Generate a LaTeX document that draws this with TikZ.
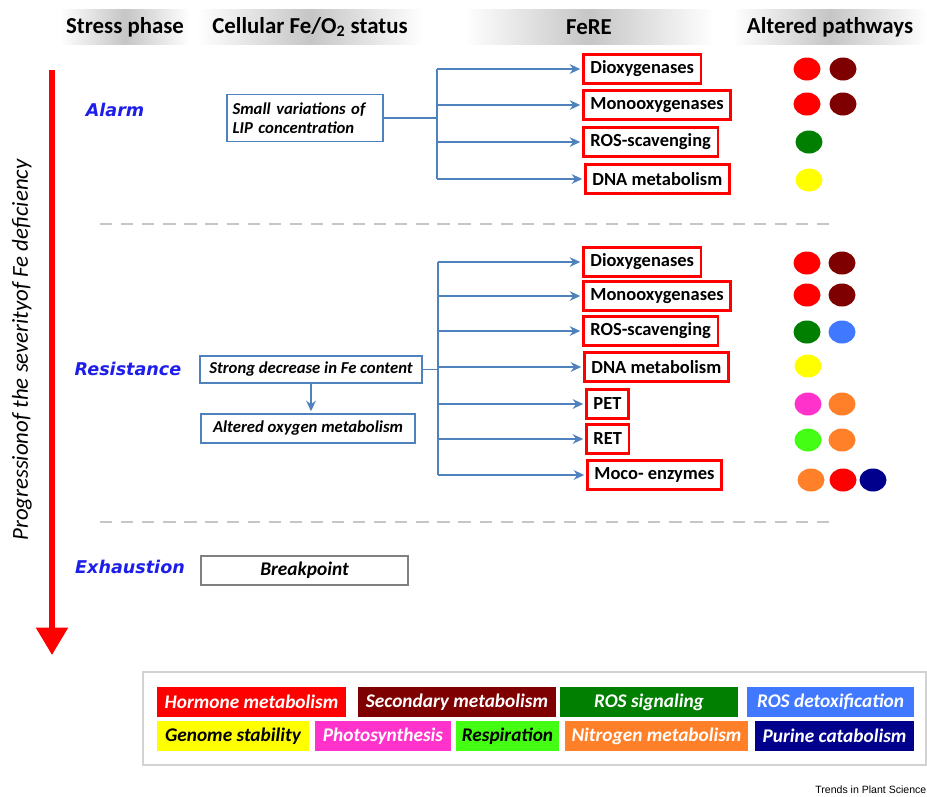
\documentclass[tikz,border=0pt]{standalone}
\usepackage{fontspec}
\setmainfont{Carlito}
\newfontfamily\stagefont{DejaVu Sans}
\newfontfamily\creditfont{Liberation Sans}
\usepackage{tikz}
\usetikzlibrary{shapes.geometric, arrows.meta, positioning, calc}
\definecolor{linkblue}{RGB}{79, 129, 189}
\definecolor{stageblue}{RGB}{30, 30, 235}
\definecolor{hormone}{RGB}{255, 0, 0}
\definecolor{secondary}{RGB}{127, 0, 0}
\definecolor{rossignal}{RGB}{0, 127, 0}
\definecolor{rosdetox}{RGB}{64, 120, 255}
\definecolor{genome}{RGB}{255, 255, 0}
\definecolor{photosyn}{RGB}{255, 51, 204}
\definecolor{respir}{RGB}{68, 255, 20}
\definecolor{nitrogen}{RGB}{255, 128, 40}
\definecolor{purine}{RGB}{0, 0, 140}

\begin{document}
\begin{tikzpicture}[x=0.02cm, y=-0.02cm,
  head/.style={font=\bfseries\fontsize{13}{15}\selectfont, minimum height=0.7cm, left color=white, right color=white, middle color=gray!45},
  stage/.style={font=\stagefont\bfseries\itshape\fontsize{10}{12}\selectfont, text=stageblue},
  status/.style={draw=linkblue, line width=1.1pt, font=\bfseries\itshape\fontsize{9.5}{11}\selectfont, inner sep=3pt},
  fere/.style={draw=red, line width=1.6pt, font=\bfseries\fontsize{10.5}{12.5}\selectfont, minimum height=0.58cm, inner xsep=4pt, anchor=west},
  link/.style={draw=linkblue, line width=1.1pt},
  arr/.style={link, -{Stealth[length=6pt, width=5.5pt]}, shorten >=1pt},
  dot/.style={ellipse, minimum width=0.54cm, minimum height=0.46cm, inner sep=0pt},
  leg/.style={minimum height=0.6cm, font=\bfseries\itshape\fontsize{11}{13}\selectfont, text=white, inner sep=0pt}]
  \useasboundingbox (0,0) rectangle (927,796);

  % Column headers
  \node[head, minimum width=2.6cm] (hstress) at (125,27) {Stress phase};
  \node[head, minimum width=4.54cm] (hstatus) at (310,27) {Cellular Fe/O\textsubscript{2} status};
  \node[head, minimum width=5cm] (hfere) at (589,27) {FeRE};
  \node[head, minimum width=3.9cm] (hpath) at (830,27) {Altered pathways};

  % Severity axis
  \coordinate (sevtop) at (52,70);
  \coordinate (sevtip) at (52,655);
  \draw[red, line width=3.2pt, -{Triangle[width=0.62cm, length=0.55cm]}] (sevtop) -- (sevtip);
  \node[rotate=90, font=\itshape\fontsize{13}{15}\selectfont] (sevlabel) at (22,350) {Progressionof the severityof Fe deficiency};

  % Stages
  \node[stage] (alarm) at (115,110) {Alarm};
  \node[stage] (resist) at (128,369) {Resistance};
  \node[stage] (exhaust) at (130,567) {Exhaustion};
  \draw[gray!45, line width=1.6pt, dash pattern=on 7pt off 5pt] (100,224) -- (830,224);
  \draw[gray!45, line width=1.6pt, dash pattern=on 7pt off 5pt] (100,522) -- (830,522);

  % Alarm phase
  \node[status, minimum width=3.08cm, minimum height=0.94cm, text width=2.9cm, align=left] (lip) at (305,118) {Small variations of\\LIP concentration};
  \node[fere] (a1) at (582,69) {Dioxygenases};
  \node[fere] (a2) at (582,105) {Monooxygenases};
  \node[fere] (a3) at (582,142) {ROS-scavenging};
  \node[fere] (a4) at (584,179) {DNA metabolism};
  \coordinate (ja) at (437,118);
  \draw[link] (lip.east) -- (ja);
  \draw[link] (ja |- a1.west) -- (ja |- a4.west);
  \foreach \n in {a1,a2,a3,a4}
    \draw[arr] (ja |- \n.west) -- (\n.west);

  \node[dot, fill=hormone] (da1) at (807,69) {};
  \node[dot, fill=secondary] (da2) at (843,69) {};
  \node[dot, fill=hormone] (da3) at (807,104) {};
  \node[dot, fill=secondary] (da4) at (843,104) {};
  \node[dot, fill=rossignal] (da5) at (809,142) {};
  \node[dot, fill=genome] (da6) at (809,180) {};

  % Resistance phase
  \node[status, minimum width=4.44cm, minimum height=0.54cm] (strong) at (311,369.5) {Strong decrease in Fe content};
  \node[status, minimum width=4.28cm, minimum height=0.58cm] (oxy) at (308,428.5) {Altered oxygen metabolism};
  \draw[arr] (strong.south) -- (strong.south |- oxy.north);
  \node[fere] (r1) at (582,262) {Dioxygenases};
  \node[fere] (r2) at (582,296) {Monooxygenases};
  \node[fere] (r3) at (582,331) {ROS-scavenging};
  \node[fere] (r4) at (583,367) {DNA metabolism};
  \node[fere] (r5) at (585,404) {PET};
  \node[fere] (r6) at (585,439) {RET};
  \node[fere] (r7) at (586,475) {Moco- enzymes};
  \coordinate (jr) at (438,369.5);
  \draw[link] (strong.east) -- (jr);
  \draw[link] (jr |- r1.west) -- (jr |- r7.west);
  \foreach \n in {r1,r2,r3,r4,r5,r6,r7}
    \draw[arr] (jr |- \n.west) -- (\n.west);

  \node[dot, fill=hormone] (dr1) at (807,263) {};
  \node[dot, fill=secondary] (dr2) at (842,263) {};
  \node[dot, fill=hormone] (dr3) at (807,295) {};
  \node[dot, fill=secondary] (dr4) at (842,295) {};
  \node[dot, fill=rossignal] (dr5) at (807,332) {};
  \node[dot, fill=rosdetox] (dr6) at (842,332) {};
  \node[dot, fill=genome] (dr7) at (808,366) {};
  \node[dot, fill=photosyn] (dr8) at (808,404) {};
  \node[dot, fill=nitrogen] (dr9) at (842,404) {};
  \node[dot, fill=respir] (dr10) at (808,440) {};
  \node[dot, fill=nitrogen] (dr11) at (842,440) {};
  \node[dot, fill=nitrogen] (dr12) at (811,480) {};
  \node[dot, fill=hormone] (dr13) at (843,480) {};
  \node[dot, fill=purine] (dr14) at (873,480) {};

  % Exhaustion phase
  \node[draw=gray, line width=1.1pt, minimum width=4.14cm, minimum height=0.58cm, font=\bfseries\itshape\fontsize{11}{13}\selectfont] (brk) at (304.5,570.5) {Breakpoint};

  % Legend
  \draw[gray!35, line width=0.8pt] (143,672) rectangle (926,765);
  \node[leg, fill=hormone, minimum width=3.78cm] (lg1) at (251.5,702) {Hormone metabolism};
  \node[leg, fill=secondary, minimum width=3.96cm] (lg2) at (457,702) {Secondary metabolism};
  \node[leg, fill=rossignal, minimum width=3.56cm] (lg3) at (649,702) {ROS signaling};
  \node[leg, fill=rosdetox, minimum width=3.34cm] (lg4) at (830.5,702) {ROS detoxification};
  \node[leg, fill=genome, text=black, minimum width=3.04cm] (lg5) at (233,736) {Genome stability};
  \node[leg, fill=photosyn, minimum width=2.72cm] (lg6) at (383,736) {Photosynthesis};
  \node[leg, fill=respir, text=black, minimum width=2.06cm] (lg7) at (507.5,736) {Respiration};
  \node[leg, fill=nitrogen, minimum width=3.66cm] (lg8) at (656.5,736) {Nitrogen metabolism};
  \node[leg, fill=purine, minimum width=3.18cm] (lg9) at (834.5,736) {Purine catabolism};

  \node[anchor=west, font=\creditfont\fontsize{6}{7}\selectfont, inner sep=0pt] (credit) at (815,790) {Trends in Plant Science};
\end{tikzpicture}
\end{document}
